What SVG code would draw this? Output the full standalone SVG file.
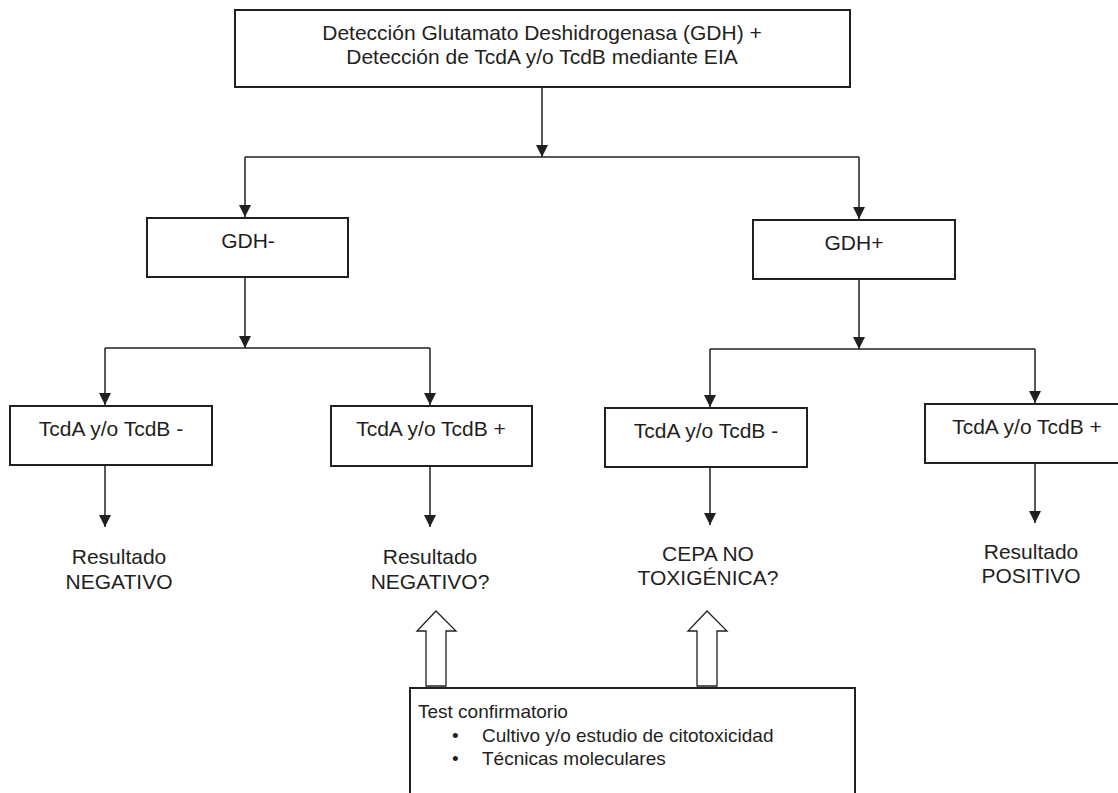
<svg xmlns="http://www.w3.org/2000/svg" width="1118" height="793" viewBox="0 0 1118 793">
<style>
text{font-family:"Liberation Sans",Arial,sans-serif;font-size:21px;fill:#231f20}
.c{text-anchor:middle}
.s{font-size:19px}
.box{fill:#fff;stroke:#231f20;stroke-width:2}
.ln{fill:none;stroke:#231f20;stroke-width:1.5}
.blk{fill:#fff;stroke:#231f20;stroke-width:1.3}
</style>
<defs>
<marker id="ah" markerUnits="userSpaceOnUse" markerWidth="12" markerHeight="12" refX="12" refY="6" orient="auto">
<path d="M0,0 L12,6 L0,12 z" fill="#231f20"/>
</marker>
</defs>
<rect width="1118" height="793" fill="#fff"/>
<g id="connectors">
<line class="ln" x1="542" y1="87" x2="542" y2="157" marker-end="url(#ah)"/>
<line class="ln" x1="245" y1="157" x2="859" y2="157"/>
<line class="ln" x1="245" y1="157" x2="245" y2="217" marker-end="url(#ah)"/>
<line class="ln" x1="859" y1="157" x2="859" y2="219" marker-end="url(#ah)"/>
<line class="ln" x1="245" y1="277" x2="245" y2="348" marker-end="url(#ah)"/>
<line class="ln" x1="105" y1="348" x2="430" y2="348"/>
<line class="ln" x1="105" y1="348" x2="105" y2="405" marker-end="url(#ah)"/>
<line class="ln" x1="430" y1="348" x2="430" y2="405" marker-end="url(#ah)"/>
<line class="ln" x1="859" y1="279" x2="859" y2="349" marker-end="url(#ah)"/>
<line class="ln" x1="710" y1="349" x2="1035" y2="349"/>
<line class="ln" x1="710" y1="349" x2="710" y2="407" marker-end="url(#ah)"/>
<line class="ln" x1="1035" y1="349" x2="1035" y2="403" marker-end="url(#ah)"/>
<line class="ln" x1="105" y1="465" x2="105" y2="527" marker-end="url(#ah)"/>
<line class="ln" x1="430" y1="466" x2="430" y2="527" marker-end="url(#ah)"/>
<line class="ln" x1="710" y1="467" x2="710" y2="525" marker-end="url(#ah)"/>
<line class="ln" x1="1035" y1="463" x2="1035" y2="523" marker-end="url(#ah)"/>
<polygon class="blk" points="436,611 417,631 426,631 426,686 446,686 446,631 456,631"/>
<polygon class="blk" points="707,611 688,631 697,631 697,686 717,686 717,631 727,631"/>
</g>
<g id="n-top">
<rect class="box" x="235" y="10" width="615" height="77"/>
<text class="c" x="542" y="40">Detección Glutamato Deshidrogenasa (GDH) +</text>
<text class="c" x="542" y="64">Detección de TcdA y/o TcdB mediante EIA</text>
</g>
<g id="n-gdhneg">
<rect class="box" x="147" y="218" width="201" height="59"/>
<text class="c" x="248" y="248">GDH-</text>
</g>
<g id="n-gdhpos">
<rect class="box" x="753" y="220" width="202" height="59"/>
<text class="c" x="854" y="250">GDH+</text>
</g>
<g id="n-t1">
<rect class="box" x="10" y="406" width="202" height="59"/>
<text class="c" x="111" y="436">TcdA y/o TcdB -</text>
</g>
<g id="n-t2">
<rect class="box" x="331" y="406" width="201" height="60"/>
<text class="c" x="431" y="436">TcdA y/o TcdB +</text>
</g>
<g id="n-t3">
<rect class="box" x="605" y="408" width="202" height="59"/>
<text class="c" x="706" y="438">TcdA y/o TcdB -</text>
</g>
<g id="n-t4">
<rect class="box" x="925" y="404" width="204" height="59"/>
<text class="c" x="1027" y="434">TcdA y/o TcdB +</text>
</g>
<g id="n-r1">
<text class="c" x="119" y="564">Resultado</text>
<text class="c" x="119" y="589">NEGATIVO</text>
</g>
<g id="n-r2">
<text class="c" x="430" y="564">Resultado</text>
<text class="c" x="430" y="589">NEGATIVO?</text>
</g>
<g id="n-r3">
<text class="c" x="708" y="561">CEPA NO</text>
<text class="c" x="708" y="585">TOXIGÉNICA?</text>
</g>
<g id="n-r4">
<text class="c" x="1031" y="559">Resultado</text>
<text class="c" x="1031" y="583">POSITIVO</text>
</g>
<g id="n-test">
<rect class="box" x="410" y="688" width="445" height="130"/>
<text class="s" x="418" y="718">Test confirmatorio</text>
<text class="s" x="452" y="742">•</text>
<text class="s" x="482" y="742">Cultivo y/o estudio de citotoxicidad</text>
<text class="s" x="452" y="765">•</text>
<text class="s" x="482" y="765">Técnicas moleculares</text>
</g>
</svg>
